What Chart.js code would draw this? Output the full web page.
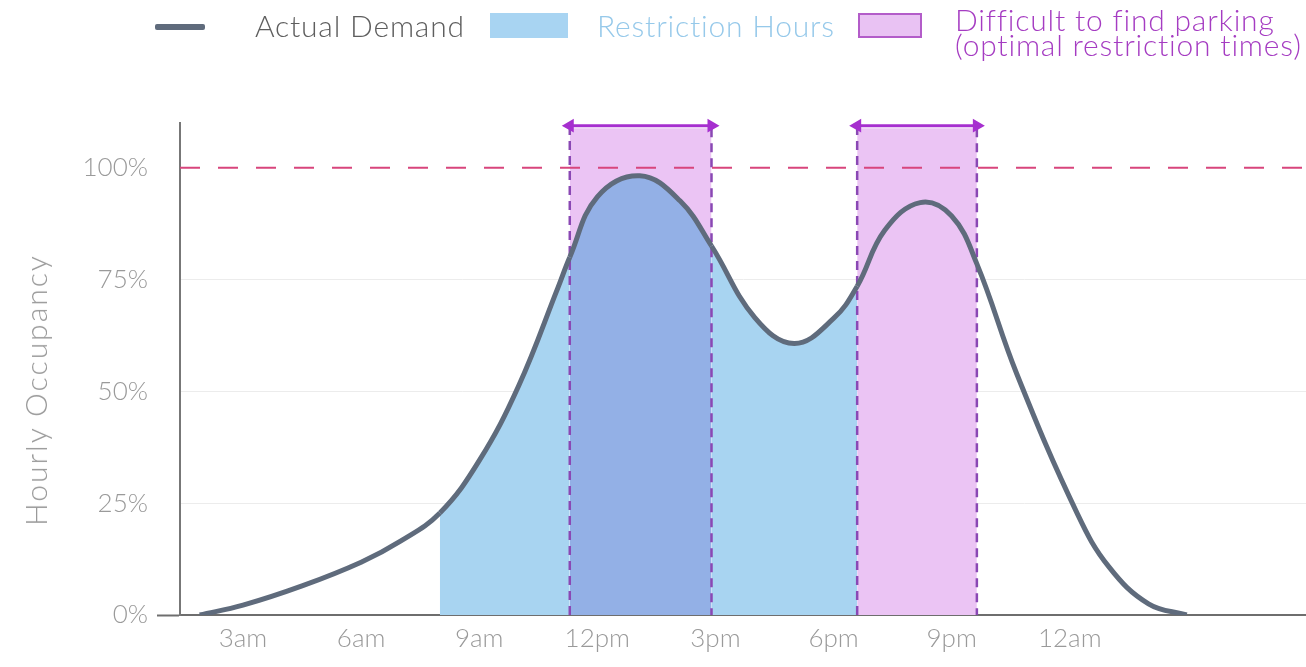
<!DOCTYPE html>
<html>
<head>
<meta charset="utf-8">
<script src="https://cdn.jsdelivr.net/npm/chart.js@4.4.1/dist/chart.umd.min.js"></script>
<style>
    body { margin: 0; background: #ffffff; font-family: Lato, "Open Sans", sans-serif; font-weight: 300; }
    #wrap { position: relative; width: 1306px; height: 667px; overflow: hidden; }
    #chart { position: absolute; left: 0; top: 0; }
    .lg { position: absolute; white-space: nowrap; font-size: 30px; line-height: 28px; letter-spacing: 0.8px; }
    .y-title { position: absolute; left: 35px; top: 390px; transform: translate(-50%, -50%) rotate(-90deg);
               font-size: 30px; letter-spacing: 2px; color: #9a9a9a; white-space: nowrap; }
</style>
</head>
<body>
<div id="wrap">
    <canvas id="chart" width="1306" height="667"></canvas>

    <!-- legend -->
    <div style="position:absolute;left:155px;top:24px;width:50px;height:6px;background:#5f6b7c;border-radius:2px;"></div>
    <div class="lg" style="left:255px;top:11px;color:#5e5e5e;">Actual Demand</div>
    <div style="position:absolute;left:490px;top:13px;width:78px;height:25px;background:#a8d4f2;"></div>
    <div class="lg" style="left:597px;top:11px;color:#96c9ea;">Restriction Hours</div>
    <div style="position:absolute;left:858px;top:13px;width:60px;height:21px;background:#e9c2f3;border:2px solid #b35cc9;"></div>
    <div class="lg" style="left:955px;top:7px;color:#a53cc2;line-height:25px;">Difficult to find parking<br>(optimal restriction times)</div>

    <div class="y-title">Hourly Occupancy</div>
</div>

<script>
// demand curve, hour of day (24+ = after midnight) vs occupancy %
const demandHours  = [1.9, 3, 4.5, 6, 7, 8, 9, 10, 11, 11.3, 12, 13.08, 14.1, 14.9, 16, 17, 18, 18.6,
                      19.3, 20.2, 21, 21.64, 22.65, 24.2, 25, 26, 26.97];
const demandValues = [0, 2.2, 6.5, 11.8, 16.5, 22.8, 34.5, 51.2, 73.2, 80, 93.5, 98.2, 92.6, 82.5, 66.5, 60.7, 66.3, 73.5,
                      86, 92.2, 89.2, 78.5, 54, 22.5, 10.7, 2.5, 0];

// shaded windows
const restrictionWindow = [8, 18.6];
const difficultStarts = [11.3, 18.6];
const difficultEnds   = [14.9, 21.64];
const difficultTop = 108.8;
const arrowLevel = 109.4;
const capacityLevel = 100;

// axes
const xRange = [1.4, 30];
const xTickHours  = [3, 6, 9, 12, 15, 18, 21, 24];
const xTickLabels = ['3am', '6am', '9am', '12pm', '3pm', '6pm', '9pm', '12am'];
const yTickValues = [0, 25, 50, 75, 100];
const yMax = 110;

const blueFill = '#a8d4f1';
const overlapFill = '#93b0e6';
const pinkFill = '#ebc4f4';
const tickFont = { family: 'Lato', size: 26, weight: '300' };

function inDifficult(x0, x1) {
    for (let i = 0; i < difficultStarts.length; i++) {
        if (x0 >= difficultStarts[i] && x1 <= difficultEnds[i]) return true;
    }
    return false;
}

// colour of the area under the curve between two points
function demandSegmentFill(ctx) {
    const x0 = ctx.p0.parsed.x;
    const x1 = ctx.p1.parsed.x;
    if (x0 < restrictionWindow[0] || x1 > restrictionWindow[1]) return 'rgba(0,0,0,0)';
    return inDifficult(x0, x1) ? overlapFill : blueFill;
}

const datasets = [];

// arrows above each difficult window
difficultStarts.forEach((start, i) => {
    datasets.push({
        data: [{ x: start, y: arrowLevel }, { x: difficultEnds[i], y: arrowLevel }],
        borderColor: '#a62fcf',
        backgroundColor: '#a62fcf',
        borderWidth: 3,
        pointStyle: 'triangle',
        pointRadius: 5,
        pointRotation: (c) => c.dataIndex === 0 ? -90 : 90,
        fill: false,
        clip: false
    });
});

// 100% capacity line
datasets.push({
    data: [{ x: xRange[0], y: capacityLevel }, { x: xRange[1], y: capacityLevel }],
    borderColor: '#d8457c',
    borderWidth: 2,
    borderDash: [20, 18],
    pointRadius: 0,
    fill: false
});

// actual demand
datasets.push({
    data: demandHours.map((h, i) => ({ x: h, y: demandValues[i] })),
    borderColor: '#5f6b7c',
    borderWidth: 5,
    pointRadius: 0,
    tension: 0.4,
    fill: 'origin',
    backgroundColor: blueFill,
    segment: { backgroundColor: demandSegmentFill }
});

// difficult-to-park boxes
difficultStarts.forEach((start, i) => {
    const end = difficultEnds[i];
    datasets.push({
        data: [{ x: start, y: 0 }, { x: start, y: difficultTop }, { x: end, y: difficultTop }, { x: end, y: 0 }],
        borderColor: '#8a48b4',
        borderWidth: 2.5,
        borderDash: [9, 6],
        pointRadius: 0,
        fill: 'origin',
        backgroundColor: pinkFill,
        segment: {
            borderColor: (c) => (c.p0.parsed.y === difficultTop && c.p1.parsed.y === difficultTop) ? 'rgba(0,0,0,0)' : undefined
        }
    });
});

new Chart(document.getElementById('chart'), {
    type: 'line',
    data: { datasets: datasets },
    options: {
        responsive: false,
        animation: false,
        layout: { autoPadding: false, padding: { top: 123, right: 0, bottom: 0, left: 0 } },
        plugins: {
            legend: { display: false },
            tooltip: { enabled: false },
            filler: { drawTime: 'beforeDatasetsDraw' }
        },
        scales: {
            x: {
                type: 'linear',
                min: xRange[0],
                max: xRange[1],
                afterFit: (scale) => { scale.height = 52; },
                afterBuildTicks: (scale) => { scale.ticks = xTickHours.map(v => ({ value: v })); },
                grid: { display: false },
                border: { color: '#6e6e6e', width: 2 },
                ticks: {
                    autoSkip: false,
                    maxRotation: 0,
                    padding: 0,
                    color: '#9a9a9a',
                    font: tickFont,
                    callback: (v) => xTickLabels[xTickHours.indexOf(v)]
                }
            },
            y: {
                min: 0,
                max: yMax,
                afterFit: (scale) => { scale.width = 180; },
                afterBuildTicks: (scale) => { scale.ticks = yTickValues.map(v => ({ value: v })); },
                grid: {
                    color: (c) => (c.tick && (c.tick.value === 0 || c.tick.value === capacityLevel)) ? 'rgba(0,0,0,0)' : '#ececec',
                    tickColor: (c) => (c.tick && c.tick.value === 0) ? '#6e6e6e' : 'rgba(0,0,0,0)',
                    tickLength: 23,
                    tickWidth: 2
                },
                border: { color: '#777777', width: 2 },
                ticks: {
                    padding: 9,
                    color: '#9a9a9a',
                    font: tickFont,
                    callback: (v) => v + '%'
                }
            }
        }
    }
});
</script>
</body>
</html>
